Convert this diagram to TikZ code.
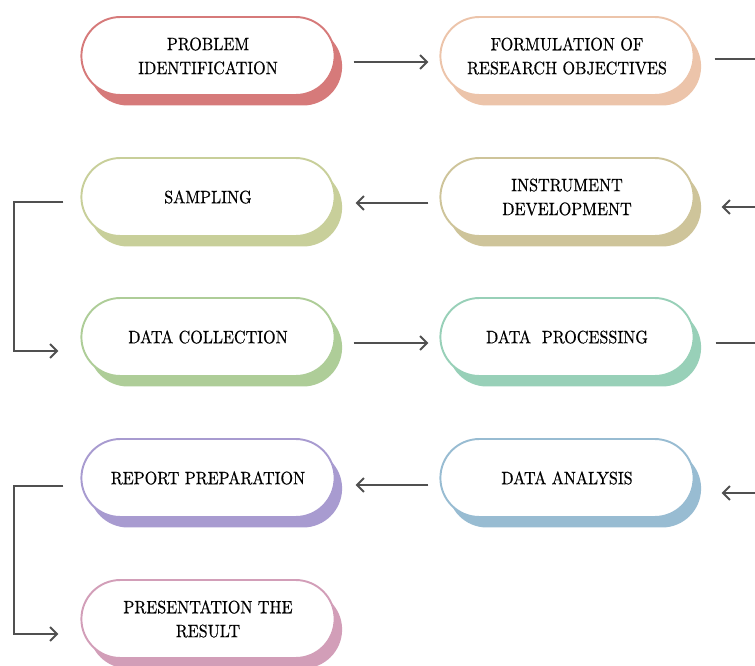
\documentclass[tikz,border=0pt]{standalone}
\usepackage{fontspec}
\newfontfamily\stepfont{lmroman10-regular.otf}[FakeStretch=0.9,FakeBold=0.5]
\usetikzlibrary{shapes.misc,shadows,arrows.meta}
\definecolor{probred}{RGB}{214,122,122}
\definecolor{formpeach}{RGB}{236,196,170}
\definecolor{sampgreen}{RGB}{200,207,154}
\definecolor{instkhaki}{RGB}{206,196,154}
\definecolor{collgreen}{RGB}{174,205,152}
\definecolor{procmint}{RGB}{152,208,184}
\definecolor{replilac}{RGB}{168,155,208}
\definecolor{anblue}{RGB}{152,188,210}
\definecolor{prespink}{RGB}{210,158,184}
\definecolor{linkgray}{RGB}{80,80,80}

\begin{document}
\begin{tikzpicture}[x=0.02cm,y=-0.02cm,
  pill/.style={rounded rectangle,draw=#1,line width=1.1pt,fill=white,
    minimum width=5.3cm,minimum height=1.56cm,align=center,
    font=\stepfont\fontsize{10.2}{13.6}\selectfont,text=black,
    drop shadow={shadow xshift=0.15cm,shadow yshift=-0.21cm,fill=#1,opacity=1}},
  link/.style={draw=linkgray,line width=1.1pt,-{Straight Barb[length=1.4mm,width=2.8mm]}}]
\useasboundingbox (0,0) rectangle (755,666);
\clip (0,0) rectangle (755,666);

% steps, two columns
\node[pill=probred] (prob) at (208,56) {PROBLEM\\IDENTIFICATION};
\node[pill=formpeach] (form) at (567,56) {FORMULATION OF\\RESEARCH OBJECTIVES};
\node[pill=sampgreen] (samp) at (208,197) {SAMPLING};
\node[pill=instkhaki] (inst) at (567,197) {INSTRUMENT\\DEVELOPMENT};
\node[pill=collgreen] (coll) at (208,337) {DATA COLLECTION};
\node[pill=procmint] (proc) at (567,337) {DATA\ \ PROCESSING};
\node[pill=replilac] (rep) at (208,478) {REPORT PREPARATION};
\node[pill=anblue] (anal) at (567,478) {DATA ANALYSIS};
\node[pill=prespink] (pres) at (208,619) {PRESENTATION THE\\RESULT};

% row links
\draw[link,shorten <=0.36cm,shorten >=0.22cm] ([yshift=-0.12cm]prob.east) -- ([yshift=-0.12cm]form.west);
\draw[link,shorten <=0.22cm,shorten >=0.4cm] ([yshift=-0.12cm]inst.west) -- ([yshift=-0.12cm]samp.east);
\draw[link,shorten <=0.36cm,shorten >=0.22cm] ([yshift=-0.12cm]coll.east) -- ([yshift=-0.12cm]proc.west);
\draw[link,shorten <=0.22cm,shorten >=0.4cm] ([yshift=-0.14cm]anal.west) -- ([yshift=-0.14cm]rep.east);

% turns on the left side
\draw[link] ([xshift=-0.34cm,yshift=-0.1cm]samp.west) -- ++(-49,0) |- ([xshift=-0.44cm,yshift=-0.28cm]coll.west);
\draw[link] ([xshift=-0.34cm,yshift=-0.16cm]rep.west) -- ++(-49,0) |- ([xshift=-0.44cm,yshift=-0.3cm]pres.west);

% turns on the right side, running past the edge
\coordinate (rtop) at (780,0);
\draw[link] ([xshift=0.4cm,yshift=-0.06cm]form.east) -| (rtop |- inst.center) |- ([xshift=0.54cm,yshift=-0.2cm]inst.east);
\draw[link] ([xshift=0.42cm,yshift=-0.12cm]proc.east) -| (rtop |- anal.center) |- ([xshift=0.54cm,yshift=-0.3cm]anal.east);
\end{tikzpicture}
\end{document}
